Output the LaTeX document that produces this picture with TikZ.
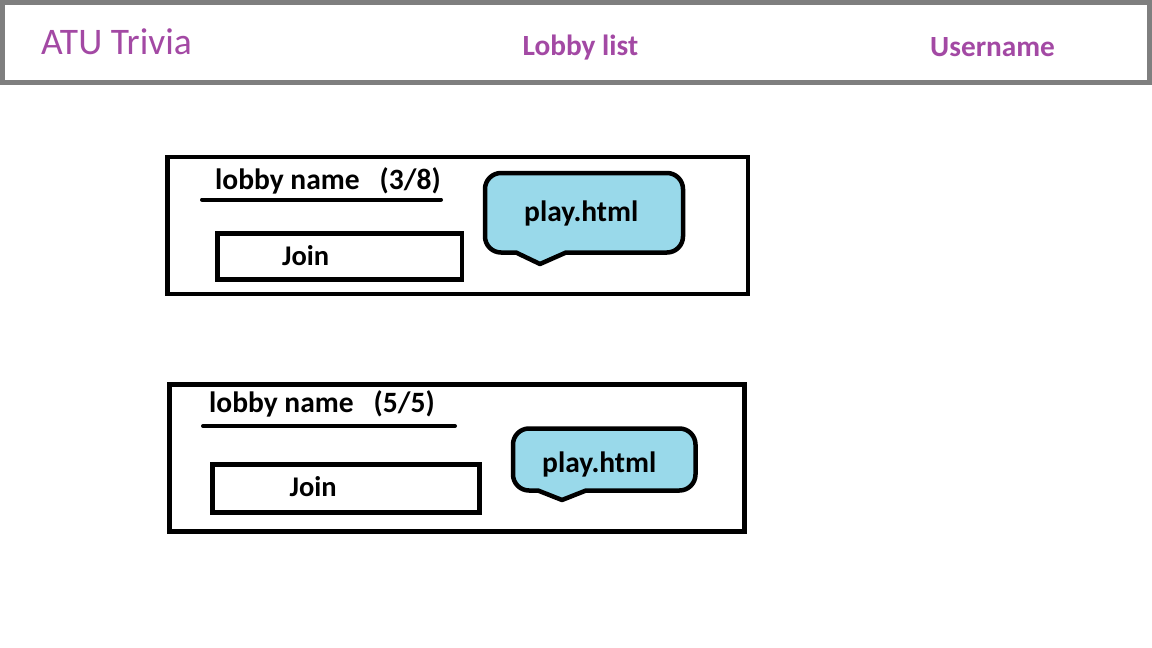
\documentclass[tikz,border=0pt]{standalone}
\usepackage{fontspec}
\setmainfont{Carlito}
\definecolor{hdrgray}{HTML}{7F7F7F}
\definecolor{purp}{HTML}{A349A4}
\definecolor{bubble}{HTML}{99D9EA}
\begin{document}
\begin{tikzpicture}[x=1pt,y=-1pt,
  box/.style={draw=black,line width=4.5pt},
  bubbleshape/.style={draw=black,fill=bubble,line width=4.5pt,line join=round},
  uline/.style={draw=black,line width=4pt,line cap=round},
  btxt/.style={font=\fontsize{29.5}{31}\selectfont\bfseries,inner sep=0pt,anchor=base west},
  jtxt/.style={font=\fontsize{28.5}{30}\selectfont\bfseries,inner sep=0pt,anchor=base west},
  htxt/.style={font=\fontsize{29.3}{31}\selectfont\bfseries,text=purp,inner sep=0pt,anchor=base west}]
\useasboundingbox (0,0) rectangle (1152,648);
\fill[white] (0,0) rectangle (1152,648);
% header
\draw[draw=hdrgray,line width=4.5pt] (2.25,2.5) rectangle (1149.5,82.5);
\node[font=\fontsize{37.5}{39}\selectfont,text=purp,inner sep=0pt,anchor=base west] (title) at (41,54) {ATU Trivia};
\node[htxt] (lobbylist) at (522.5,55) {Lobby list};
\node[htxt] (username) at (930,56) {Username};
% lobby 1
\draw[box] (167.5,157) rectangle (748,294);
\node[btxt] (name1) at (215,189.5) {lobby name\ \ \ (3/8)};
\coordinate (u1a) at (202,199.5);
\coordinate (u1b) at (441,199.5);
\draw[uline] (u1a) -- (u1b);
\draw[box] (217.5,233.5) rectangle (462,279.5);
\node[jtxt] (join1) at (282,265) {Join};
\draw[bubbleshape] (540,264) -- (516,252.5) -- (501,252.5)
  .. controls (492.2,252.5) and (485,245.3) .. (485,236.5) -- (485,189)
  .. controls (485,180.2) and (492.2,173) .. (501,173) -- (667,173)
  .. controls (675.8,173) and (683,180.2) .. (683,189) -- (683,236.5)
  .. controls (683,245.3) and (675.8,252.5) .. (667,252.5) -- (566,252.5) -- cycle;
\node[btxt] (play1) at (524,221.5) {play.html};
% lobby 2
\draw[box] (169.5,384.5) rectangle (744.5,531.5);
\node[btxt] (name2) at (209,412.5) {lobby name\ \ \ (5/5)};
\coordinate (u2a) at (203,426);
\coordinate (u2b) at (455,426);
\draw[uline] (u2a) -- (u2b);
\draw[box] (212.5,464.5) rectangle (479.5,512.5);
\node[jtxt] (join2) at (289.5,496.5) {Join};
\draw[bubbleshape] (562,500) -- (538,490.5) -- (529,490.5)
  .. controls (520.2,490.5) and (513,483.3) .. (513,474.5) -- (513,444.5)
  .. controls (513,435.7) and (520.2,428.5) .. (529,428.5) -- (679.5,428.5)
  .. controls (688.3,428.5) and (695.5,435.7) .. (695.5,444.5) -- (695.5,474.5)
  .. controls (695.5,483.3) and (688.3,490.5) .. (679.5,490.5) -- (586,490.5) -- cycle;
\node[btxt] (play2) at (542,472) {play.html};
\end{tikzpicture}
\end{document}
